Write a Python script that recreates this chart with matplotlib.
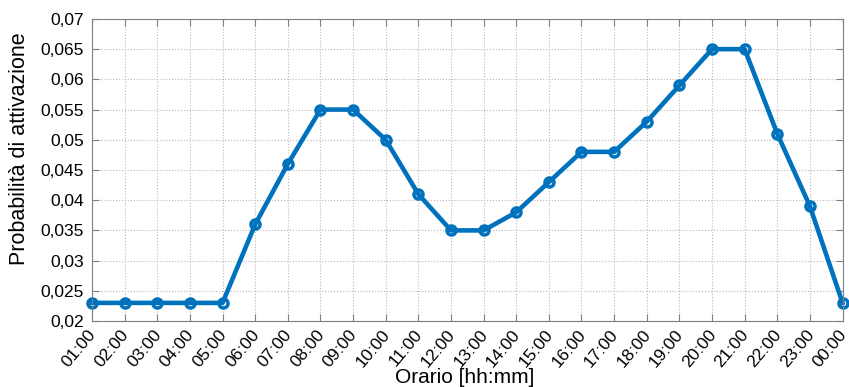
import matplotlib.pyplot as plt

orari = ["01:00", "02:00", "03:00", "04:00", "05:00", "06:00", "07:00", "08:00",
         "09:00", "10:00", "11:00", "12:00", "13:00", "14:00", "15:00", "16:00",
         "17:00", "18:00", "19:00", "20:00", "21:00", "22:00", "23:00", "00:00"]
probabilita = [0.023, 0.023, 0.023, 0.023, 0.023, 0.036, 0.046, 0.055,
               0.055, 0.050, 0.041, 0.035, 0.035, 0.038, 0.043, 0.048,
               0.048, 0.053, 0.059, 0.065, 0.065, 0.051, 0.039, 0.023]
yticks = [0.02, 0.025, 0.03, 0.035, 0.04, 0.045, 0.05, 0.055, 0.06, 0.065, 0.07]

plt.rcParams["font.family"] = ["Liberation Sans", "DejaVu Sans"]

fig = plt.figure(figsize=(8.49, 3.87), dpi=100)
ax = fig.add_axes([0.1084, 0.1705, 0.884, 0.7805])

x = list(range(len(orari)))
ax.plot(x, probabilita, color="#0072BD", linewidth=3.3, marker="o",
        markersize=6.5, markerfacecolor="none", markeredgewidth=2.5, clip_on=False)

ax.set_xlim(0, len(orari) - 1)
ax.set_ylim(0.02, 0.07)
ax.set_xticks(x)
ax.set_xticklabels(orari, rotation=50, ha="right", va="center_baseline",
                   rotation_mode="anchor", fontsize=12.5)
ax.set_yticks(yticks)
ax.set_yticklabels([f"{v:g}".replace(".", ",") for v in yticks], fontsize=12.5)

ax.grid(True, linestyle=":", color="#b8b8b8", linewidth=0.8)
for s in ax.spines.values():
    s.set_color("#808080")
ax.tick_params(direction="in", top=True, right=True, length=5, color="#808080",
               labelcolor="black")
ax.tick_params(axis="x", pad=7)
ax.tick_params(axis="y", pad=6)

ax.set_xlabel("Orario [hh:mm]", fontsize=15)
ax.xaxis.set_label_coords(0.497, -0.155)
ax.set_ylabel("Probabilità di attivazione", fontsize=15.5)
ax.yaxis.set_label_coords(-0.082, 0.57)

fig.savefig("out.png", dpi=100)
